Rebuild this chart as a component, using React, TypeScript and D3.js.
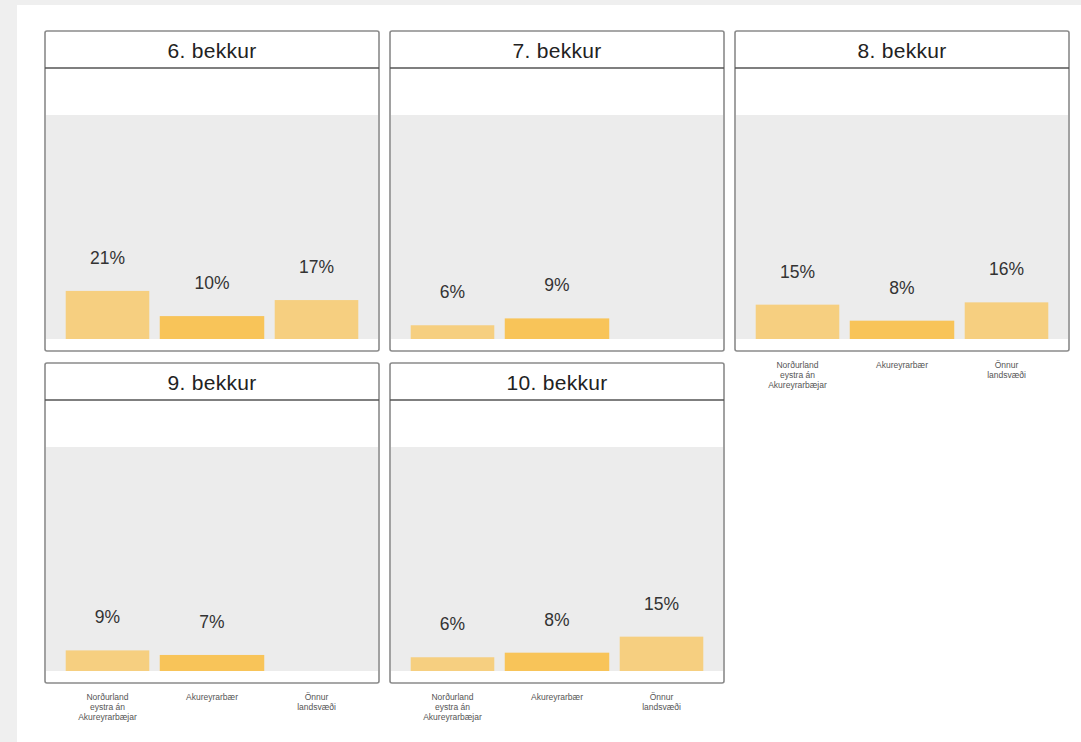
import React from "react";
import * as d3 from "d3";

const categories = ["Norðurland eystra án Akureyrarbæjar", "Akureyrarbær", "Önnur landsvæði"];
const categoryLines = [["Norðurland", "eystra án", "Akureyrarbæjar"], ["Akureyrarbær"], ["Önnur", "landsvæði"]];
const grades = ["6. bekkur", "7. bekkur", "8. bekkur", "9. bekkur", "10. bekkur"];
const grade6 = [21, 10, 17];
const grade7 = [6, 9, null];
const grade8 = [15, 8, 16];
const grade9 = [9, 7, null];
const grade10 = [6, 8, 15];
const highlighted = [false, true, false];

const values: (number | null)[][] = [grade6, grade7, grade8, grade9, grade10];

const W = 1081;
const H = 742;
const colLefts = [45, 390, 735];
const rowTops = [31, 363];
const panelW = 334;
const panelH = 320;
const stripH = 37;
const baseOff = 308;
const FONT = "Liberation Sans, Arial, Helvetica, sans-serif";

function Panel({ idx }: { idx: number }) {
  const col = idx % 3;
  const row = Math.floor(idx / 3);
  const px = colLefts[col];
  const py = rowTops[row];
  const base = py + baseOff;
  const y = d3.scaleLinear().domain([0, 100]).range([base, base - 229]);
  const x = d3.scaleBand<string>().domain(categories).range([px + 10.25, px + panelW - 10.25]).paddingInner(0).paddingOuter(0);
  const bw = x.bandwidth();
  const showAxis = idx >= 2;
  const vals = values[idx];
  return (
    <g>
      <rect x={px} y={py + stripH} width={panelW} height={panelH - stripH} fill="#ffffff" />
      <rect x={px + 1} y={y(97.8)} width={panelW - 2} height={base - y(97.8)} fill="#ececec" />
      {categories.map((c, i) => {
        const v = vals[i];
        if (v == null) return null;
        const w = highlighted[i] ? bw : bw * 0.8;
        const cx = (x(c) as number) + bw / 2;
        return (
          <g key={c}>
            <rect x={cx - w / 2} y={y(v)} width={w} height={base - y(v)} fill={highlighted[i] ? "#f8c459" : "#f6cf80"} />
            <text x={cx} y={y(v) - 27} textAnchor="middle" fontSize={17.5} fill="#333" fontFamily={FONT}>
              {v}%
            </text>
          </g>
        );
      })}
      <rect x={px} y={py} width={panelW} height={panelH} rx={2} fill="none" stroke="#8a8a8a" strokeWidth={1.6} />
      <line x1={px} x2={px + panelW} y1={py + stripH} y2={py + stripH} stroke="#555" strokeWidth={1.6} />
      <text x={px + panelW / 2} y={py + 26.5} textAnchor="middle" fontSize={21} letterSpacing={0.3} fill="#222" fontFamily={FONT}>
        {grades[idx]}
      </text>
      {showAxis &&
        categories.map((c, i) => {
          const cx = (x(c) as number) + bw / 2;
          return (
            <text key={c} x={cx} y={py + panelH + 16.5} textAnchor="middle" fontSize={8.5} fill="#555" fontFamily={FONT}>
              {categoryLines[i].map((l, j) => (
                <tspan key={j} x={cx} dy={j === 0 ? 0 : 10}>
                  {l}
                </tspan>
              ))}
            </text>
          );
        })}
    </g>
  );
}

export default function App() {
  return (
    <div style={{ position: "absolute", left: 0, top: 0 }}>
      <svg width={W} height={H} style={{ display: "block" }}>
        <rect x={0} y={0} width={W} height={H} fill="#efefef" />
        <rect x={17} y={5} width={W - 17} height={H - 5} fill="#ffffff" />
        {grades.map((g, i) => (
          <Panel key={g} idx={i} />
        ))}
      </svg>
    </div>
  );
}
